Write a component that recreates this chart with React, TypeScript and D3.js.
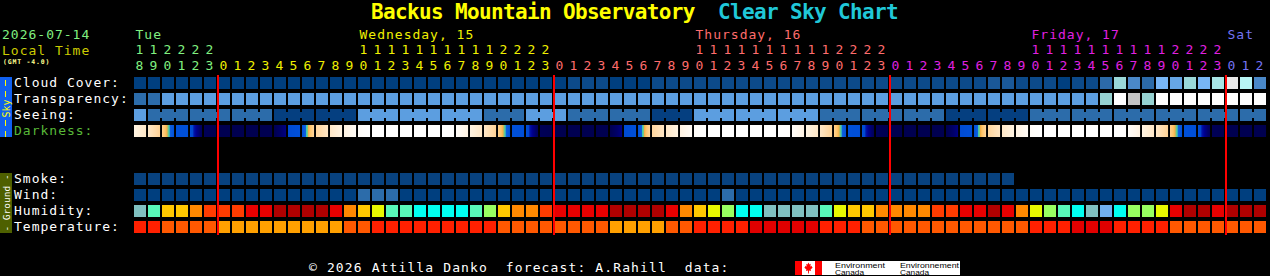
import React from "react";
import * as d3 from "d3";

const W = 1270;
const H = 276;

// ---------- data ----------
const HOURS = [
  18, 19, 20, 21, 22, 23,
  0, 1, 2, 3, 4, 5, 6, 7, 8, 9, 10, 11, 12, 13, 14, 15, 16, 17, 18, 19, 20, 21, 22, 23,
  0, 1, 2, 3, 4, 5, 6, 7, 8, 9, 10, 11, 12, 13, 14, 15, 16, 17, 18, 19, 20, 21, 22, 23,
  0, 1, 2, 3, 4, 5, 6, 7, 8, 9, 10, 11, 12, 13, 14, 15, 16, 17, 18, 19, 20, 21, 22, 23,
  0, 1, 2,
];

const DAYS = [
  { label: "Tue", first: 0, last: 5, labelCol: 0 },
  { label: "Wednesday, 15", first: 6, last: 29, labelCol: 16 },
  { label: "Thursday, 16", first: 30, last: 53, labelCol: 40 },
  { label: "Friday, 17", first: 54, last: 77, labelCol: 64 },
  { label: "Sat", first: 78, last: 80, labelCol: 78 },
];

// cloud cover, tenths
const CLOUD = [
  0, 0, 0, 0, 0, 0, 0, 0, 0, 0,
  0, 0, 0, 0, 0, 0, 0, 0, 0, 0,
  0, 0, 0, 0, 0, 0, 0, 0, 0, 0,
  0, 1, 1, 1, 0, 0, 0, 1, 1, 1,
  1, 1, 1, 1, 1, 1, 1, 1, 1, 1,
  1, 1, 1, 1, 1, 1, 1, 1, 1, 1,
  1, 2, 2, 1, 1, 1, 0, 1, 1, 3,
  7, 4, 3, 6, 5, 7, 6, 8, 10, 9,
  4,
];

// transparency: 0 transparent .. 4 poor, 5 too cloudy
const TRANSPARENCY = [
  1, 1, 2, 2, 2, 2, 2, 2, 2, 2,
  2, 2, 2, 2, 2, 2, 2, 2, 2, 2,
  2, 2, 2, 2, 2, 2, 2, 2, 2, 2,
  2, 2, 2, 2, 2, 2, 2, 2, 2, 2,
  2, 2, 2, 2, 2, 2, 2, 2, 2, 2,
  2, 2, 2, 2, 2, 2, 2, 2, 2, 2,
  2, 2, 2, 2, 2, 2, 2, 2, 2, 3,
  5, 4, 3, 5, 5, 5, 5, 5, 5, 5,
  5,
];

// seeing: 1 good .. 3 poor
const SEEING = [
  3, 2, 2, 2, 2, 2, 2, 2, 2, 2,
  1, 1, 1, 1, 1, 1, 3, 3, 3, 3,
  3, 3, 3, 3, 3, 2, 2, 2, 3, 3,
  3, 2, 2, 2, 2, 2, 2, 1, 1, 1,
  3, 3, 3, 3, 3, 3, 3, 3, 3, 2,
  2, 2, 2, 2, 2, 2, 2, 2, 1, 1,
  1, 1, 1, 1, 2, 2, 2, 2, 2, 2,
  2, 2, 2, 2, 2, 2, 2, 2, 2, 2,
  2,
];

// darkness level at start / end of each hour (0 daylight .. 10 full dark)
const DARK_FROM = [
  1.0, 1.9, 3.3, 6.0, 6.3, 9.7,
  10, 10, 10, 10, 10, 6.6, 6.0, 3.0, 1.9, 1.0, 0.2, 0, 0, 0, 0, 0, 0, 0.2, 1.0, 1.9, 3.3, 6.0, 6.3, 9.7,
  10, 10, 10, 10, 10, 6.6, 6.0, 3.0, 1.9, 1.0, 0.2, 0, 0, 0, 0, 0, 0, 0.2, 1.0, 1.9, 3.3, 6.0, 6.3, 9.7,
  10, 10, 10, 10, 10, 6.6, 6.0, 3.0, 1.9, 1.0, 0.2, 0, 0, 0, 0, 0, 0, 0.2, 1.0, 1.9, 3.3, 6.0, 6.3, 9.7,
  10, 10, 10,
];
const DARK_TO = [
  1.9, 3.2, 5.9, 6.2, 9.6, 10,
  10, 10, 10, 10, 8.3, 6.1, 3.0, 2.0, 1.0, 0.3, 0, 0, 0, 0, 0, 0, 0.1, 1.0, 1.9, 3.2, 5.9, 6.2, 9.6, 10,
  10, 10, 10, 10, 8.3, 6.1, 3.0, 2.0, 1.0, 0.3, 0, 0, 0, 0, 0, 0, 0.1, 1.0, 1.9, 3.2, 5.9, 6.2, 9.6, 10,
  10, 10, 10, 10, 8.3, 6.1, 3.0, 2.0, 1.0, 0.3, 0, 0, 0, 0, 0, 0, 0.1, 1.0, 1.9, 3.2, 5.9, 6.2, 9.6, 10,
  10, 10, 10,
];

const SMOKE = [
  0, 0, 0, 0, 0, 0, 0, 0, 0, 0,
  0, 0, 0, 0, 0, 0, 0, 0, 0, 0,
  0, 0, 0, 0, 0, 0, 0, 0, 0, 0,
  0, 0, 0, 0, 0, 0, 0, 0, 0, 0,
  0, 0, 0, 0, 0, 0, 0, 0, 0, 0,
  0, 0, 0, 0, 0, 0, 0, 0, 0, 0,
  0, 0, 0,
];

// wind category: 0 calm, 1 light
const WIND = [
  0, 0, 0, 0, 0, 0, 0, 0, 0, 0,
  0, 0, 0, 0, 0, 0, 1, 1, 1, 0,
  0, 0, 0, 0, 0, 0, 0, 0, 0, 0,
  0, 0, 0, 0, 0, 0, 0, 0, 0, 0,
  0, 0, 1, 0, 0, 0, 0, 0, 0, 0,
  0, 0, 0, 0, 0, 0, 0, 0, 0, 0,
  0, 0, 0, 0, 0, 0, 0, 0, 0, 0,
  0, 0, 0, 0, 0, 0, 0, 0, 0, 0,
  0,
];

// relative humidity %
const HUMIDITY = [
  43, 53, 68, 68, 73, 78, 78, 78, 83, 83,
  90, 90, 90, 90, 83, 73, 68, 63, 53, 53,
  48, 48, 48, 48, 53, 58, 68, 73, 73, 78,
  83, 83, 83, 83, 90, 90, 90, 90, 83, 73,
  68, 63, 58, 48, 48, 43, 43, 43, 43, 53,
  63, 68, 68, 73, 73, 73, 73, 78, 78, 83,
  83, 90, 83, 73, 63, 58, 53, 48, 43, 38,
  48, 58, 58, 63, 83, 90, 90, 83, 90, 90,
  90,
];

// temperature °C
const TEMPERATURE = [
  25, 25, 21, 21, 21, 21, 17, 17, 17, 17,
  17, 17, 17, 17, 17, 21, 21, 25, 25, 25,
  25, 25, 25, 25, 25, 25, 21, 21, 21, 21,
  21, 21, 21, 21, 17, 17, 17, 17, 21, 21,
  25, 25, 25, 25, 29, 29, 29, 29, 29, 25,
  25, 25, 21, 21, 21, 21, 21, 21, 21, 21,
  21, 21, 21, 21, 25, 25, 25, 29, 29, 29,
  25, 25, 25, 25, 21, 21, 21, 21, 21, 21,
  21,
];

const SKY_ROWS = ["Cloud Cover:", "Transparency:", "Seeing:", "Darkness:"];
const GROUND_ROWS = ["Smoke:", "Wind:", "Humidity:", "Temperature:"];

// ---------- styles ----------
const FONT = "'DejaVu Sans Mono', monospace";
const DAY_COLORS = ["#80f080", "#f0f000", "#ff6c6c", "#e020e0", "#7474f4"];

const cloudColor = d3
  .scaleOrdinal<number, string>()
  .domain(d3.range(11))
  .range(["#003f7f", "#0c4a8a", "#1a5898", "#2c6aa8", "#4a88c8", "#66a6e6", "#78b6f6", "#9ad8d8", "#a8e6e6", "#b8f6f6", "#eaeaea"]);
const transColor = d3
  .scaleOrdinal<number, string>()
  .domain([0, 1, 2, 3, 4, 5])
  .range(["#003f7f", "#2c6caa", "#5c9ee0", "#96d2d2", "#c4c4c4", "#fefefe"]);
const seeingColor = d3.scaleOrdinal<number, string>().domain([1, 2, 3]).range(["#053f80", "#2c6caa", "#5c9ee0"]);
const windColor = d3.scaleOrdinal<number, string>().domain([0, 1]).range(["#003f7f", "#2c6caa"]);
const smokeColor = d3.scaleOrdinal<number, string>().domain([0]).range(["#08427f"]);
const humidityColor = d3
  .scaleThreshold<number, string>()
  .domain([40, 45, 50, 55, 60, 65, 70, 75, 80, 85])
  .range(["#70b0f0", "#80c0c0", "#00fff0", "#58f8b8", "#98ff60", "#e8f800", "#ffc800", "#ff8800", "#ff3c00", "#e80000", "#b00000"]);
const tempColor = d3.scaleThreshold<number, string>().domain([19, 23, 27]).range(["#ffa000", "#ff5800", "#ff2000", "#e00000"]);
const darkColor = d3
  .scaleLinear<string>()
  .domain([0, 1, 2, 3, 4, 4.4, 4.6, 4.9, 5.0, 6, 7, 7.4, 8, 9, 10])
  .range(["#ffffff", "#fff3e2", "#ffe6c4", "#ffd69e", "#ffc468", "#f2b048", "#7cc880", "#40c8b0", "#1060e0", "#0050d8", "#0048d0", "#0014a8", "#000090", "#000068", "#000050"])
  .clamp(true);

export default function App() {
  const cols = d3.range(HOURS.length);
  const x = d3.scaleBand<number>().domain(cols).range([134, 1266]).paddingInner(2 / 14).paddingOuter(0);
  const bw = x.bandwidth();
  const skyY = d3.scaleBand<string>().domain(SKY_ROWS).range([77, 137]).paddingInner(0.25);
  const groundY = d3.scaleBand<string>().domain(GROUND_ROWS).range([173, 233]).paddingInner(0.25);
  const bh = skyY.bandwidth();

  const dayOf = (c: number) => DAYS.findIndex((d) => c >= d.first && c <= d.last);

  const cellRow = (vals: number[], y: number, color: (v: number) => string, key: string) =>
    vals.map((v, c) => <rect key={key + c} x={x(c)} y={y} width={bw} height={bh} fill={color(v)} />);

  const seeingConnectors = SEEING.map((v, c) => {
    if (c === SEEING.length - 1 || HOURS[c] % 3 === 0) return null;
    return <rect key={"sc" + c} x={(x(c) as number) + bw} y={(skyY("Seeing:") as number) + 3} width={x.step() - bw} height={6} fill={seeingColor(v)} />;
  });

  const darkSlices: JSX.Element[] = [];
  cols.forEach((c) => {
    const a = DARK_FROM[c];
    const b = DARK_TO[c];
    for (let k = 0; k < bw; k++) {
      const t = (k + 0.5) / bw;
      darkSlices.push(
        <rect key={"d" + c + "_" + k} x={(x(c) as number) + k} y={skyY("Darkness:")} width={1.05} height={bh} fill={darkColor(a + (b - a) * t)} />
      );
    }
  });

  const midnights = cols.filter((c) => HOURS[c] === 0);

  const labelStyle: React.CSSProperties = { letterSpacing: "1px", whiteSpace: "pre" };

  return (
    <svg width={W} height={H} style={{ position: "absolute", left: 0, top: 0, display: "block" }} fontFamily={FONT}>
      <rect x={0} y={0} width={W} height={H} fill="#000" />

      {/* title */}
      <text x={371} y={19} fontSize={21} fontWeight="bold" fill="#ffff00" style={{ letterSpacing: "-0.65px" }}>
        Backus Mountain Observatory
      </text>
      <text x={718} y={19} fontSize={21} fontWeight="bold" fill="#20c8d8" style={{ letterSpacing: "-0.65px" }}>
        Clear Sky Chart
      </text>

      {/* left header */}
      <text x={2} y={39} fontSize={13} fill="#80f080" style={labelStyle}>2026-07-14</text>
      <text x={2} y={55} fontSize={13} fill="#cccc00" style={labelStyle}>Local Time</text>
      <text x={3} y={64} fontSize={6.5} fontWeight="bold" fill="#ffff90" style={{ letterSpacing: "0.8px" }}>(GMT -4.0)</text>

      {/* day labels */}
      {DAYS.map((d, i) => (
        <text key={"day" + i} x={(x(d.labelCol) as number) + 1.5} y={39} fontSize={13} fill={DAY_COLORS[i]} style={labelStyle}>
          {d.label}
        </text>
      ))}

      {/* hour digits */}
      {cols.map((c) => {
        const h = HOURS[c];
        const col = DAY_COLORS[dayOf(c)];
        const cx = (x(c) as number) + bw / 2 - 0.5;
        return (
          <g key={"h" + c} fill={col} fontSize={13} textAnchor="middle">
            {h >= 10 ? <text x={cx} y={54}>{Math.floor(h / 10)}</text> : null}
            <text x={cx} y={70}>{h % 10}</text>
          </g>
        );
      })}

      {/* side bars */}
      <rect x={0} y={77} width={12} height={60} fill="#1060f0" />
      <line x1={5.5} x2={5.5} y1={80} y2={98} stroke="#ffff00" strokeWidth={1} strokeDasharray="6 5" />
      <line x1={5.5} x2={5.5} y1={120} y2={137} stroke="#ffff00" strokeWidth={1} strokeDasharray="6 5" />
      <text transform="translate(6,108.5) rotate(-90)" textAnchor="middle" dominantBaseline="central" fontSize={10} fill="#ffff00">Sky</text>

      <rect x={0} y={173} width={12} height={60} fill="#4e6000" />
      <text transform="translate(6,203) rotate(-90)" textAnchor="middle" dominantBaseline="central" fontSize={9.5} fill="#ffffff" style={{ whiteSpace: "pre" }}>- Ground -</text>

      {/* row labels */}
      {SKY_ROWS.map((r) => (
        <text key={r} x={14} y={(skyY(r) as number) + 9.5} fontSize={13} fill={r === "Darkness:" ? "#58b838" : "#ffffff"} style={labelStyle}>
          {r}
        </text>
      ))}
      {GROUND_ROWS.map((r) => (
        <text key={r} x={14} y={(groundY(r) as number) + 9.5} fontSize={13} fill="#ffffff" style={labelStyle}>
          {r}
        </text>
      ))}

      {/* sky rows */}
      {cellRow(CLOUD, skyY("Cloud Cover:") as number, cloudColor, "cl")}
      {cellRow(TRANSPARENCY, skyY("Transparency:") as number, transColor, "tr")}
      {cellRow(SEEING, skyY("Seeing:") as number, seeingColor, "se")}
      {seeingConnectors}
      {darkSlices}

      {/* ground rows */}
      {cellRow(SMOKE, groundY("Smoke:") as number, smokeColor, "sm")}
      {cellRow(WIND, groundY("Wind:") as number, windColor, "wi")}
      {cellRow(HUMIDITY, groundY("Humidity:") as number, humidityColor, "hu")}
      {cellRow(TEMPERATURE, groundY("Temperature:") as number, tempColor, "te")}

      {/* midnight lines */}
      {midnights.map((c) => (
        <rect key={"m" + c} x={(x(c) as number) - 1} y={75} width={2} height={160} fill="#ff0000" />
      ))}

      {/* footer */}
      <text x={309} y={272} fontSize={13} fill="#ffffff" xmlSpace="preserve" style={{ letterSpacing: "1.12px", whiteSpace: "pre" }}>
        © 2026 Attilla Danko  forecast: A.Rahill  data:
      </text>
      <rect x={795} y={261} width={165} height={14} fill="#ffffff" />
      <rect x={795} y={261} width={7} height={14} fill="#ff0000" />
      <rect x={815} y={261} width={7} height={14} fill="#ff0000" />
      <path
        d="M808.5,262.5 L809.5,264.4 L810.8,263.8 L810.3,266.4 L812,265.7 L811.7,267 L812.8,267.6 L810.6,269.5 L811,270.9 L809,270.5 L808.9,273.5 L808.1,273.5 L808,270.5 L806,270.9 L806.4,269.5 L804.2,267.6 L805.3,267 L805,265.7 L806.7,266.4 L806.2,263.8 L807.5,264.4 Z"
        fill="#ff0000"
      />
      <g fill="#000" fontFamily="'Liberation Sans', Arial, sans-serif" fontSize={7}>
        <text x={835} y={267.5} textLength={50} lengthAdjust="spacingAndGlyphs">Environment</text>
        <text x={835} y={275} textLength={29} lengthAdjust="spacingAndGlyphs">Canada</text>
        <text x={900} y={267.5} textLength={59} lengthAdjust="spacingAndGlyphs">Environnement</text>
        <text x={900} y={275} textLength={29} lengthAdjust="spacingAndGlyphs">Canada</text>
      </g>
    </svg>
  );
}
